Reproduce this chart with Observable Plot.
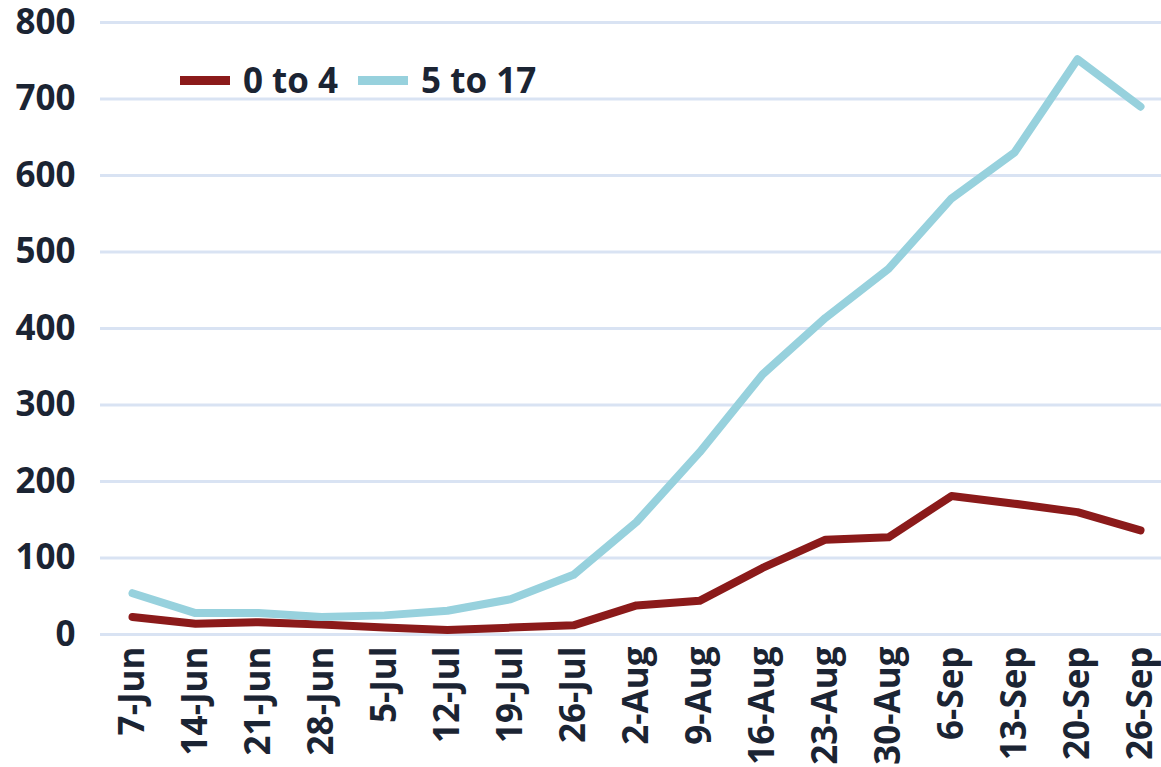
<!DOCTYPE html>
<html><head><meta charset="utf-8">
<script src="https://cdn.jsdelivr.net/npm/d3@7"></script>
<script src="https://cdn.jsdelivr.net/npm/@observablehq/plot@0.6"></script>
<style>
body{margin:0;background:#fff;font-family:"Open Sans",sans-serif;}
#wrap{position:relative;width:1161px;height:767px;}
#legend{position:absolute;left:180px;top:56px;display:flex;align-items:center;font-weight:700;font-size:35px;color:#1b2433;line-height:48px;}
.sw{display:inline-block;width:50px;height:9px;margin-right:13px;}
.item{display:flex;align-items:center;margin-right:20px;}
</style></head><body><div id="wrap"><div id="legend"></div></div>
<script>
const weeks = ["7-Jun","14-Jun","21-Jun","28-Jun","5-Jul","12-Jul","19-Jul","26-Jul","2-Aug","9-Aug","16-Aug","23-Aug","30-Aug","6-Sep","13-Sep","20-Sep","26-Sep"];
const age0to4 = [23,14,16,13,9,6,9,12,38,44,87,124,127,181,171,160,136];
const age5to17 = [54,28,28,23,25,31,46,78,147,238,340,414,478,570,630,752,690];
const seriesNames = ["0 to 4","5 to 17"];
const seriesColors = ["#8b1a1a","#97d1dd"];
const yTicks = [0,100,200,300,400,500,600,700,800];

const data = weeks.flatMap((w,i)=>[
  {week:w, series:seriesNames[0], value:age0to4[i]},
  {week:w, series:seriesNames[1], value:age5to17[i]}
]);

const chart = Plot.plot({
  width:1161, height:767, marginLeft:100, marginRight:0, marginTop:22, marginBottom:133,
  style:{fontFamily:"'Open Sans', sans-serif", fontWeight:700, fontSize:"35px", color:"#1b2433", background:"#fff", overflow:"visible"},
  x:{type:"point", domain:weeks, range:[132,1140], padding:0, label:null},
  y:{domain:[0,800], label:null},
  color:{domain:seriesNames, range:seriesColors},
  marks:[
    Plot.ruleY(yTicks, {stroke:"#d9e3f3", strokeWidth:3}),
    Plot.axisY(yTicks, {tickSize:0, tickPadding:25, label:null}),
    Plot.axisX({tickSize:0, tickRotate:-90, tickPadding:12, label:null}),
    Plot.line(data, {x:"week", y:"value", stroke:"series", strokeWidth:8, strokeLinecap:"round", strokeLinejoin:"round"})
  ]
});
document.getElementById("wrap").appendChild(chart);

const legend = document.getElementById("legend");
seriesNames.forEach((n,i)=>{
  const it = document.createElement("div"); it.className="item";
  const sw = document.createElement("span"); sw.className="sw"; sw.style.background=seriesColors[i];
  it.appendChild(sw); it.appendChild(document.createTextNode(n));
  legend.appendChild(it);
});
</script></body></html>
